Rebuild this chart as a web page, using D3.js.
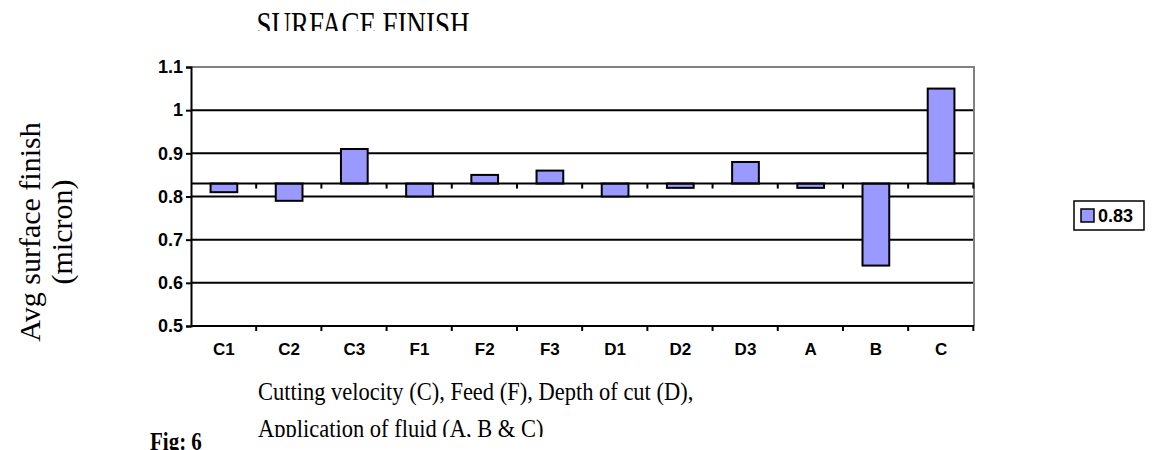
<!DOCTYPE html>
<html lang="en">
<head>
    <meta charset="UTF-8">
    <title>Surface Finish</title>
    <style>
        body { margin: 0; background: #fff; }
        svg { display: block; }
    </style>
</head>
<body>
    <svg width="1152" height="450"></svg>
    <script src="https://d3js.org/d3.v7.min.js"></script>
<script>

const categories = ["C1", "C2", "C3", "F1", "F2", "F3", "D1", "D2", "D3", "A", "B", "C"];
const values = [0.81, 0.79, 0.91, 0.80, 0.85, 0.86, 0.80, 0.82, 0.88, 0.82, 0.64, 1.05];
const baseValue = 0.83;
const yTicks = [0.5, 0.6, 0.7, 0.8, 0.9, 1.0, 1.1];
const yTickLabels = ["0.5", "0.6", "0.7", "0.8", "0.9", "1", "1.1"];
const legendLabels = ["0.83"];

const svg = d3.select("svg");
const plotLeft = 191, plotRight = 974, plotTop = 67, plotBottom = 326;
const barColor = "#9999FF";
const serif = "Liberation Serif, Times New Roman, serif";
const sans = "Liberation Sans, Arial, sans-serif";
const stretch = 1.15; // the text in the original is a little taller than usual

const x = d3.scaleBand()
    .domain(categories)
    .range([plotLeft, plotRight])
    .paddingInner(0.59)
    .paddingOuter(0.3);

const y = d3.scaleLinear()
    .domain([0.5, 1.1])
    .range([plotBottom, plotTop]);

// clips for the cut-off text at top and bottom of the figure
const defs = svg.append("defs");
defs.append("clipPath").attr("id", "clipTop")
    .append("rect").attr("x", 0).attr("y", 0).attr("width", 1152).attr("height", 31);
defs.append("clipPath").attr("id", "clipBottom")
    .append("rect").attr("x", 0).attr("y", 0).attr("width", 1152).attr("height", 437);

// gridlines
svg.append("g")
    .selectAll("line")
    .data(yTicks.filter(d => d > 0.5 && d < 1.1))
    .enter()
    .append("line")
    .attr("x1", plotLeft)
    .attr("x2", plotRight)
    .attr("y1", d => y(d))
    .attr("y2", d => y(d))
    .attr("stroke", "#000")
    .attr("stroke-width", 2);

// top and right border (grey)
svg.append("path")
    .attr("d", `M${plotLeft},${y(1.1)}H${plotRight}V${y(0.5)}`)
    .attr("fill", "none")
    .attr("stroke", "#808080")
    .attr("stroke-width", 2);

// bars from the 0.83 crossing
svg.append("g")
    .selectAll("rect")
    .data(values)
    .enter()
    .append("rect")
    .attr("x", (d, i) => x(categories[i]))
    .attr("y", d => y(Math.max(d, baseValue)))
    .attr("width", x.bandwidth())
    .attr("height", d => Math.abs(y(d) - y(baseValue)))
    .attr("fill", barColor)
    .attr("stroke", "#000")
    .attr("stroke-width", 2);

// category axis at 0.83
const step = x.step();
const boundaries = d3.range(1, categories.length + 1).map(i => plotLeft + i * step);
svg.append("line")
    .attr("x1", plotLeft).attr("x2", plotRight)
    .attr("y1", y(baseValue)).attr("y2", y(baseValue))
    .attr("stroke", "#000").attr("stroke-width", 2);
svg.append("g")
    .selectAll("line")
    .data(boundaries)
    .enter()
    .append("line")
    .attr("x1", d => d).attr("x2", d => d)
    .attr("y1", y(baseValue)).attr("y2", y(baseValue) + 5)
    .attr("stroke", "#000").attr("stroke-width", 2);

// bottom axis line with labels
svg.append("line")
    .attr("x1", plotLeft).attr("x2", plotRight)
    .attr("y1", y(0.5)).attr("y2", y(0.5))
    .attr("stroke", "#000").attr("stroke-width", 2);
svg.append("g")
    .selectAll("line")
    .data(boundaries)
    .enter()
    .append("line")
    .attr("x1", d => d).attr("x2", d => d)
    .attr("y1", y(0.5)).attr("y2", y(0.5) + 5)
    .attr("stroke", "#000").attr("stroke-width", 2);
svg.append("g")
    .selectAll("text")
    .data(categories)
    .enter()
    .append("text")
    .attr("x", d => x(d) + x.bandwidth() / 2)
    .attr("y", y(0.5) + 29)
    .attr("text-anchor", "middle")
    .attr("font-family", sans)
    .attr("font-weight", "bold")
    .attr("font-size", 17)
    .text(d => d);

// y axis
const yAxis = svg.append("g")
    .attr("transform", `translate(${plotLeft},0)`)
    .call(d3.axisLeft(y).tickValues(yTicks).tickSize(5).tickPadding(3)
        .tickFormat((d, i) => yTickLabels[i]));
yAxis.select(".domain").attr("stroke", "#000").attr("stroke-width", 2);
yAxis.selectAll(".tick line").attr("stroke", "#000").attr("stroke-width", 2);
yAxis.selectAll(".tick text")
    .attr("fill", "#000")
    .attr("font-family", sans)
    .attr("font-weight", "bold")
    .attr("font-size", 18);

// legend
const legend = svg.append("g").attr("transform", "translate(1074,201)");
legend.append("rect")
    .attr("width", 70).attr("height", 29)
    .attr("fill", "#fff").attr("stroke", "#000").attr("stroke-width", 1.5);
legend.selectAll(".sw")
    .data(legendLabels)
    .enter()
    .append("rect")
    .attr("class", "sw")
    .attr("x", 7).attr("y", 8).attr("width", 13).attr("height", 13)
    .attr("fill", barColor).attr("stroke", "#000").attr("stroke-width", 1.5);
legend.selectAll(".lt")
    .data(legendLabels)
    .enter()
    .append("text")
    .attr("class", "lt")
    .attr("x", 24).attr("y", 21)
    .attr("font-family", sans)
    .attr("font-weight", "bold")
    .attr("font-size", 18)
    .text(d => d);

// title (cut at the top)
svg.append("g")
    .attr("clip-path", "url(#clipTop)")
    .append("text")
    .attr("transform", "translate(363,37) scale(1,1.3)")
    .attr("text-anchor", "middle")
    .attr("font-family", serif)
    .attr("font-size", 27)
    .text("SURFACE FINISH");

// y title
const yTitle = svg.append("text")
    .attr("transform", "translate(40,232) rotate(-90)")
    .attr("text-anchor", "middle")
    .attr("font-family", serif)
    .attr("font-size", 30);
yTitle.append("tspan").attr("x", 0).attr("y", 0).text("Avg surface finish");
yTitle.append("tspan").attr("x", 0).attr("y", 32).text("(micron)");

// x title
const xTitle = svg.append("g")
    .attr("clip-path", "url(#clipBottom)")
    .append("text")
    .attr("transform", `translate(258,0) scale(1,${stretch})`)
    .attr("font-family", serif)
    .attr("font-size", 22.5);
xTitle.append("tspan").attr("x", 0).attr("y", 400 / stretch).text("Cutting velocity (C), Feed (F), Depth of cut (D),");
xTitle.append("tspan").attr("x", 0).attr("y", 437 / stretch).text("Application of fluid (A, B & C)");

svg.append("text")
    .attr("transform", `translate(150,450) scale(1,${stretch})`)
    .attr("font-family", serif)
    .attr("font-weight", "bold")
    .attr("font-size", 21)
    .text("Fig: 6");

</script>
</body>
</html>
